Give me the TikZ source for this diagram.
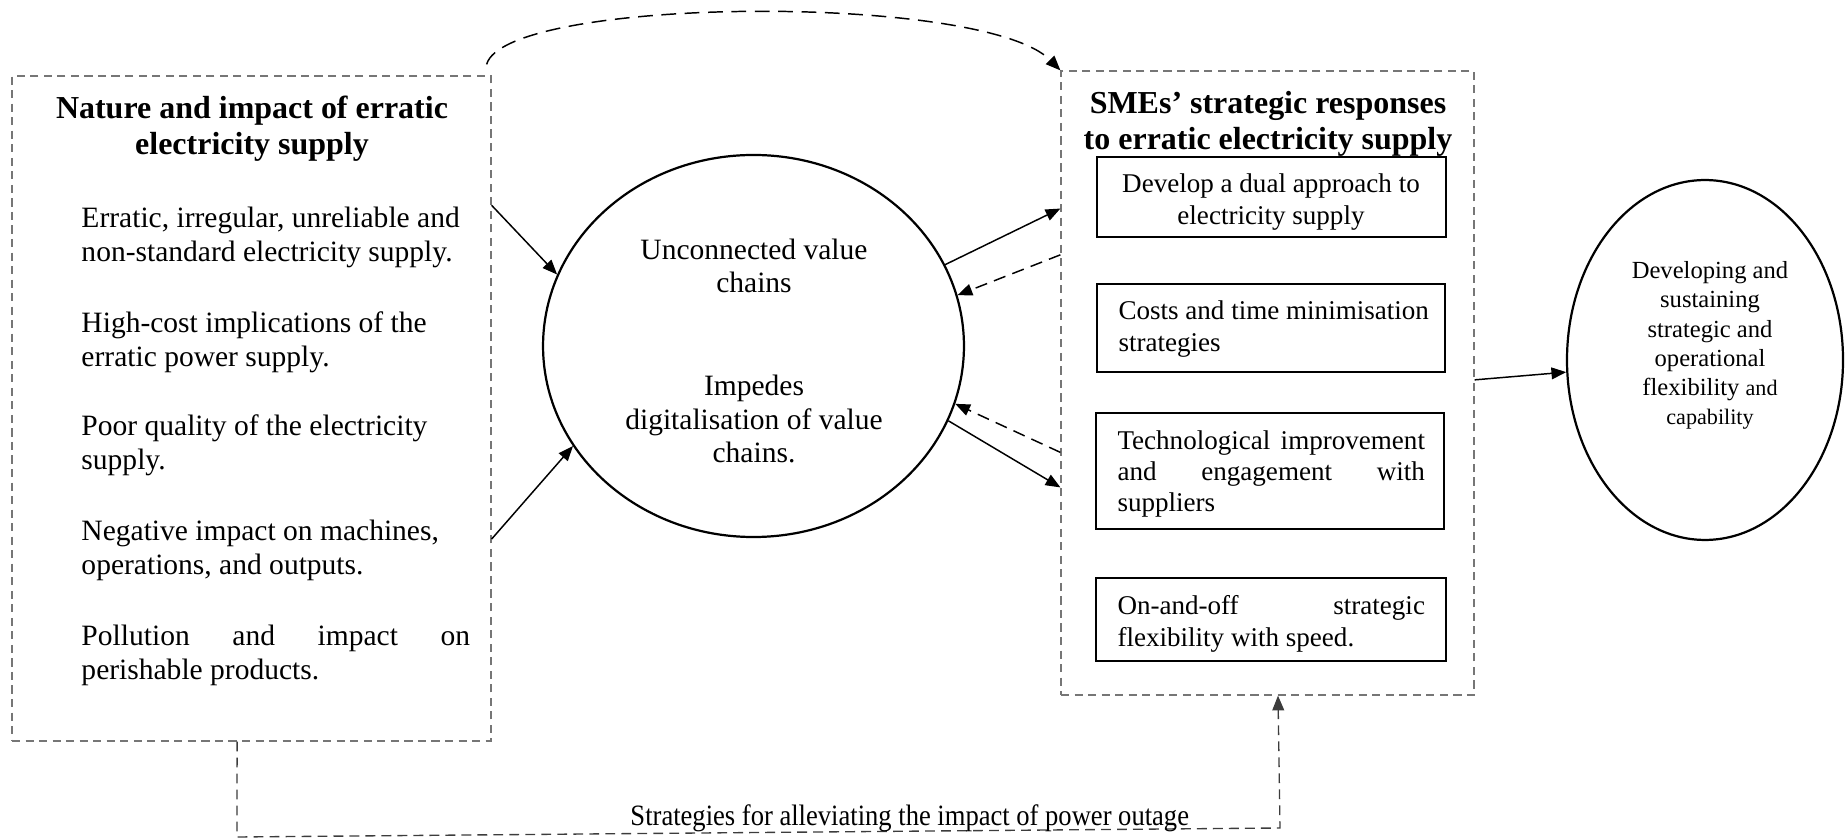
\documentclass[tikz,border=0pt]{standalone}
\usepackage{fontspec}
\usepackage{graphicx}
\setmainfont{Liberation Serif}
\usetikzlibrary{arrows.meta,shapes.geometric,fit,calc}
\definecolor{boxgray}{RGB}{118,118,118}
\definecolor{linkgray}{RGB}{60,60,60}

\tikzset{
  outerbox/.style={draw=boxgray, line width=0.5pt, dash pattern=on 3.3pt off 2.2pt, inner sep=0pt},
  innerbox/.style={draw, line width=0.7pt, inner sep=0pt},
  oval/.style={ellipse, draw, line width=0.9pt, inner sep=0pt},
  heading/.style={font=\fontsize{13}{14.6}\selectfont\bfseries, align=center, inner sep=0pt},
  bodytext/.style={font=\fontsize{12}{13.8}\selectfont, align=left, inner sep=0pt},
  boxtext/.style={font=\fontsize{11}{12.8}\selectfont, align=left, inner sep=0pt},
  notetext/.style={font=\fontsize{10}{11.9}\selectfont, align=center, inner sep=0pt},
  arr/.style={-{Triangle[length=6pt,width=4.8pt]}, line width=0.6pt},
  darr/.style={arr, dash pattern=on 5pt off 3pt},
  curvearr/.style={arr, dash pattern=on 6pt off 3.5pt},
  linkarr/.style={arr, draw=linkgray, dash pattern=on 4pt off 2.5pt, line width=0.55pt},
}

\begin{document}
\begin{tikzpicture}[x=0.4065pt, y=-0.4065pt]
\useasboundingbox (0,0) rectangle (1845,839);

% left panel: nature and impact
\node[outerbox, fit={(12,76) (491,741)}] (L) {};
\node[heading] (Lt) at (252,128.5) {Nature and impact of erratic\\electricity supply};
\node[bodytext, anchor=west] (L1) at (81,237) {Erratic, irregular, unreliable and\\non-standard electricity supply.};
\node[bodytext, anchor=west] (L2) at (81,342) {High-cost implications of the\\erratic power supply.};
\node[bodytext, anchor=west] (L3) at (81,445) {Poor quality of the electricity\\supply.};
\node[bodytext, anchor=west] (L4) at (81,550.5) {Negative impact on machines,\\operations, and outputs.};
\node[bodytext, anchor=west] (L5) at (81,655) {\makebox[158pt][s]{Pollution and impact on}\\perishable products.};

% central ellipse
\node[oval, minimum width=171.1pt, minimum height=155.3pt] (M) at (753.5,346) {};
\node[bodytext, align=center, font=\fontsize{12}{13.5}\selectfont] (M1) at (754,266) {Unconnected value\\chains};
\node[bodytext, align=center, font=\fontsize{12}{13.5}\selectfont] (M2) at (754,419) {Impedes\\digitalisation of value\\chains.};

% right panel: strategic responses
\node[outerbox, fit={(1061,71) (1474,695)}] (R) {};
\node[heading] (Rt) at (1268,124) {SMEs’ strategic responses\\to erratic electricity supply};
\node[innerbox, fit={(1097,157) (1446,237)}] (B1) {};
\node[boxtext, align=center] (T1) at (1271,202) {Develop a dual approach to\\electricity supply};
\node[innerbox, fit={(1097,284) (1445,372)}] (B2) {};
\node[boxtext, anchor=west] (T2) at (1118,329) {Costs and time minimisation\\strategies};
\node[innerbox, fit={(1096,413) (1444,529)}] (B3) {};
\node[boxtext, anchor=west] (T3) at (1117,474) {\makebox[125pt][s]{Technological improvement}\\\makebox[125pt][s]{and engagement with}\\suppliers};
\node[innerbox, fit={(1096,578) (1446,661)}] (B4) {};
\node[boxtext, anchor=west] (T4) at (1117,624) {\makebox[125pt][s]{On-and-off strategic}\\flexibility with speed.};

% outcome ellipse
\node[oval, minimum width=112.2pt, minimum height=146.3pt] (E) at (1705,360) {};
\node[notetext] (Et) at (1710,345.5) {Developing and\\sustaining\\strategic and\\operational\\flexibility {\fontsize{9}{11.9}\selectfont and}\\{\fontsize{9}{11.9}\selectfont capability}};

% connectors
\draw[arr] ($(L.north east)!0.195!(L.south east)$) -- (M.160);
\draw[arr] ($(L.north east)!0.696!(L.south east)$) -- (M.209);
\draw[arr] (M.23) -- ($(R.north west)!0.221!(R.south west)$);
\draw[darr] ($(R.north west)!0.295!(R.south west)$) -- (M.14);
\draw[darr] ($(R.north west)!0.611!(R.south west)$) -- (M.-16);
\draw[arr] (M.-21) -- ($(R.north west)!0.667!(R.south west)$);
\draw[arr] ($(R.north east)!0.495!(R.south east)$) -- (E.185);

% arc over the top
\coordinate (TS) at ($(L.north east)+(-5,-11)$);
\draw[curvearr] (TS) .. controls ($(TS)+(19,-68)$) and ($(R.north west)+(-77,-78)$) .. (R.north west);

% loop along the bottom
\coordinate (B0) at ($(L.south west)!0.47!(L.south east)$);
\coordinate (Bl) at (237,837);
\coordinate (Br) at (1280,828);
\coordinate (B9) at ($(R.south)+(10.5,0)$);
\draw[linkarr] (B0) -- (Bl) -- (Br) -- (B9);
\node[anchor=base west, inner sep=0pt, font=\fontsize{12}{13.8}\selectfont] (S) at (630,825) {\scalebox{0.9}[1]{Strategies for alleviating the impact of power outage}};
\end{tikzpicture}
\end{document}
